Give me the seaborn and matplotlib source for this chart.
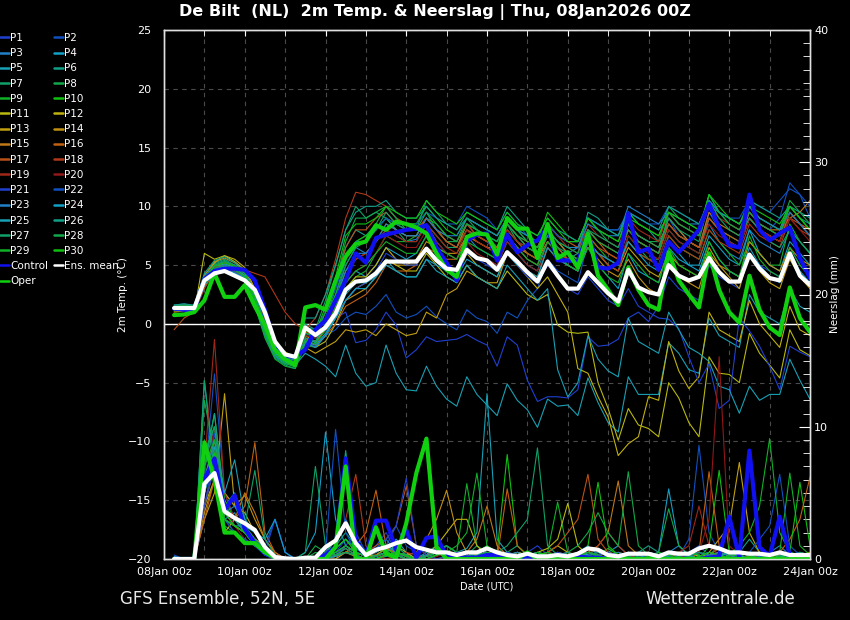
import numpy as np
import pandas as pd
import matplotlib
matplotlib.use("Agg")
import matplotlib.pyplot as plt
import seaborn as sns
from matplotlib.lines import Line2D
from matplotlib.ticker import MultipleLocator

# forecast steps, hours after 08Jan 00z
hours = list(range(6, 385, 6))
tick_hours = [0, 48, 96, 144, 192, 240, 288, 336, 384]
tick_labels = ["08Jan 00z", "10Jan 00z", "12Jan 00z", "14Jan 00z", "16Jan 00z",
               "18Jan 00z", "20Jan 00z", "22Jan 00z", "24Jan 00z"]

member_colors = ["#2040d0", "#1050c0", "#2080c8", "#10a0c8", "#18a0b4",
                 "#10a088", "#10a068", "#10a848", "#10b028", "#10c010",
                 "#b8b810", "#c0b010", "#c0a010", "#c09010", "#c07818",
                 "#c06010", "#b85018", "#b03818", "#a02818", "#901818"]

# ---- 2m temperature, members ----
t_p1 = [1.4, 1.5, 1.4, 3.8, 4.6, 4.8, 4.5, 4.0, 2.2, -0.3, -2.2, -2.9, -3.1, -0.8, -1.2, -0.6,
        0.5, 1.0, -1.6, -1.4, -0.5, 1.0, -0.1, -2.9, -2.2, -1.1, -1.5, -1.4, -1.3, -0.9, -1.4, -1.8,
        -3.6, -1.1, -1.8, -4.8, -6.6, -6.2, -6.2, -6.3, -5.6, -1.1, -1.9, -1.8, -1.3, 0.5, 1.0, 0.2,
        1.5, 4.0, 3.0, 2.5, 2.0, 5.0, 4.0, 3.5, 3.0, 6.0, 5.0, 4.5, 4.0, 6.5, 5.0, 4.0]
t_p2 = [1.3, 1.4, 1.3, 3.6, 4.4, 4.7, 4.6, 4.2, 2.8, 0.5, -1.8, -2.6, -3.0, -1.5, -1.8, -1.0,
        -0.5, 0.5, 1.0, 0.8, 1.5, 2.5, 1.0, 0.5, 0.8, 1.5, 0.6, 0.0, -0.5, 1.2, 0.5, 0.2,
        -0.8, 1.0, 0.5, 2.0, 3.0, 5.5, 4.5, 4.0, 3.5, 7.0, 6.0, 5.5, 5.0, 8.5, 7.0, 6.5,
        6.0, 9.0, 7.5, 7.0, 6.5, 9.5, 8.0, 7.0, 6.5, 10.0, 8.5, 8.0, 9.0, 12.0, 11.0, 9.0]
t_p3 = [1.6, 1.7, 1.5, 4.2, 5.0, 5.3, 5.0, 4.4, 2.6, 0.2, -1.8, -2.6, -3.0, -0.5, -0.8, 0.5,
        2.5, 5.0, 6.5, 6.0, 7.0, 8.0, 7.5, 7.0, 7.2, 8.5, 7.0, 6.0, 5.5, 7.5, 6.5, 6.0,
        5.5, 7.5, 6.5, 5.5, 5.0, 8.0, 7.0, 6.0, 6.5, 9.0, 8.5, 8.0, 8.0, 9.5, 9.0, 8.5,
        8.0, 9.0, 8.0, 7.0, 6.5, 8.5, 7.0, 6.0, 5.5, 8.0, 7.0, 6.5, 6.0, 8.0, 7.0, 6.0]
t_p4 = [1.2, 1.3, 1.2, 3.4, 4.3, 4.5, 4.3, 3.9, 1.8, -0.8, -2.6, -3.3, -3.6, -1.2, -1.6, -0.5,
        1.0, 3.5, 4.5, 4.0, 5.0, 6.5, 6.0, 5.5, 6.0, 7.5, 6.0, 5.0, 4.5, 6.5, 5.5, 5.5,
        5.0, 7.0, 6.0, 5.0, 4.5, 7.0, 6.0, 5.0, 4.5, 6.5, 5.0, 4.0, 3.0, 6.0, 4.5, 4.0,
        3.5, 6.5, 5.5, 5.0, 5.0, 7.5, 6.5, 5.5, 5.0, 8.0, 6.0, 5.0, 4.5, 7.0, 6.0, 5.0]
t_p5 = [1.4, 1.5, 1.4, 3.7, 4.5, 4.6, 4.3, 3.6, 1.5, -1.0, -2.8, -3.4, -3.5, -2.5, -3.0, -3.6,
        -4.5, -1.8, -4.2, -5.3, -5.0, -1.8, -4.2, -5.6, -5.7, -3.6, -5.3, -6.4, -7.0, -4.5, -6.0, -6.9,
        -7.8, -5.1, -6.5, -7.3, -8.8, -6.4, -7.0, -6.9, -7.8, -4.6, -6.7, -8.4, -9.2, -4.5, -6.0, -6.0,
        -6.0, -1.6, -2.5, -3.9, -4.2, 0.5, -1.0, -1.5, -2.0, 2.5, 1.0, 0.5, 0.0, 3.0, 1.5, 1.0]
t_p6 = [1.5, 1.6, 1.5, 4.0, 5.2, 5.5, 5.0, 4.3, 2.4, -0.2, -2.2, -3.0, -3.3, 0.0, -0.5, 1.0,
        3.5, 6.5, 8.0, 7.5, 8.0, 9.0, 8.0, 7.5, 7.5, 9.0, 8.0, 7.0, 6.5, 8.5, 8.0, 7.5,
        7.0, 9.0, 8.0, 7.0, 6.5, 8.0, 6.5, 5.5, 6.0, 9.5, 9.0, 8.0, 7.5, 9.5, 8.5, 8.0,
        7.0, 8.5, 7.5, 7.0, 6.5, 9.0, 8.0, 7.5, 7.0, 9.5, 8.5, 8.0, 7.5, 10.0, 9.0, 8.5]
t_p7 = [1.3, 1.4, 1.3, 3.9, 5.1, 5.4, 4.9, 4.2, 2.0, -0.8, -2.7, -3.4, -3.6, -0.3, -0.5, 2.0,
        5.0, 8.0, 10.0, 9.0, 9.5, 9.0, 8.0, 7.0, 7.0, 8.5, 7.5, 6.5, 6.5, 8.0, 7.5, 7.0,
        6.5, 8.5, 7.0, 6.0, 5.5, 7.5, 6.5, 5.5, 5.0, 7.0, 6.0, 5.0, 4.5, 7.5, 6.5, 5.5,
        5.5, 8.0, 7.0, 6.5, 6.0, 9.0, 8.0, 7.0, 6.5, 9.0, 8.0, 7.5, 7.0, 9.5, 8.5, 7.5]
t_p8 = [1.4, 1.5, 1.4, 3.6, 4.8, 5.0, 4.7, 4.1, 2.2, -0.5, -2.4, -3.1, -3.4, -1.0, -1.2, 0.5,
        2.5, 5.5, 7.0, 7.5, 8.5, 10.0, 9.0, 8.5, 8.5, 9.5, 8.0, 7.0, 7.0, 9.0, 8.5, 8.0,
        7.5, 9.0, 8.0, 7.0, 6.5, 8.5, 7.5, 7.0, 7.0, 9.0, 8.0, 7.0, 6.5, 8.5, 7.5, 7.0,
        7.0, 10.0, 9.0, 8.5, 8.0, 11.0, 9.5, 8.5, 8.0, 10.0, 9.0, 8.5, 8.0, 10.5, 9.5, 8.5]
t_p9 = [1.2, 1.3, 1.2, 3.3, 4.4, 4.7, 4.5, 4.0, 1.6, -1.2, -3.0, -3.6, -3.8, -1.8, -2.0, -1.0,
        1.0, 3.0, 4.0, 4.5, 6.0, 7.5, 7.0, 7.0, 7.5, 9.0, 8.5, 7.5, 7.0, 8.5, 8.0, 7.5,
        6.5, 8.0, 7.0, 6.5, 6.0, 8.0, 7.0, 6.0, 5.5, 7.5, 6.5, 5.5, 5.0, 7.0, 6.0, 5.5,
        5.0, 7.5, 6.5, 6.0, 5.5, 8.0, 7.0, 6.0, 5.0, 7.0, 6.0, 5.0, 5.0, 8.5, 7.0, 6.0]
t_p10 = [1.3, 1.4, 1.4, 3.7, 4.7, 5.0, 4.7, 4.1, 2.1, -0.6, -2.5, -3.2, -3.5, -0.8, -1.0, 0.5,
         3.0, 6.0, 7.0, 7.5, 8.0, 9.0, 8.5, 8.5, 8.5, 10.0, 9.0, 8.0, 7.5, 9.0, 8.5, 8.0,
         7.5, 9.0, 8.0, 7.5, 7.0, 9.5, 8.5, 7.5, 7.0, 9.0, 8.0, 7.5, 7.0, 9.5, 8.5, 8.0,
         7.5, 9.5, 8.5, 8.0, 7.5, 10.5, 9.5, 9.0, 8.5, 10.0, 9.0, 8.5, 8.0, 10.0, 9.0, 8.0]
t_p11 = [1.1, 1.2, 1.0, 6.0, 5.5, 5.8, 5.3, 4.6, 2.8, 0.3, -1.8, -2.6, -3.0, -1.5, -2.0, -1.5,
         0.0, 2.0, 3.0, 3.5, 4.5, 5.5, 5.0, 4.5, 4.5, 6.0, 5.0, 4.0, 3.5, 5.0, 4.0, 3.5,
         3.0, 4.5, 3.5, 2.5, 2.0, 2.5, -0.1, -0.7, -0.8, -0.7, -5.0, -7.2, -9.9, -7.2, -8.6, -8.9,
         -9.6, -5.0, -6.3, -8.4, -9.6, -2.8, -4.2, -4.3, -5.0, -0.8, -2.5, -3.5, -4.6, -0.5, -2.2, -2.7]
t_p12 = [1.3, 1.4, 1.3, 3.8, 5.2, 5.8, 5.5, 4.8, 3.0, 0.5, -1.6, -2.4, -2.8, -1.2, -1.5, -0.5,
         1.0, 3.0, 4.0, 4.0, 5.0, 6.5, 5.5, 5.0, 5.0, 6.5, 5.5, 4.5, 4.0, 6.0, 5.0, 4.5,
         4.0, 6.0, 5.0, 4.0, 3.0, 4.0, 2.5, 1.0, -3.8, -4.2, -6.2, -7.9, -11.2, -10.2, -9.6, -6.2,
         -6.5, -1.5, -4.0, -5.5, -4.5, 1.0, -0.5, -1.0, -1.5, 2.0, 0.0, -1.0, -2.0, 1.5, -0.5, -1.0]
t_p13 = [1.0, 1.1, 1.0, 3.2, 4.3, 4.8, 4.6, 4.2, 2.6, 0.2, -1.9, -2.7, -3.1, -2.0, -2.5, -2.0,
         -1.5, -0.5, -0.7, -0.5, -1.0, 0.0, -0.5, -1.0, -0.8, 1.0, 0.5, 2.5, 3.0, 4.5, 4.0, 3.5,
         3.5, 6.0, 5.0, 4.5, 4.0, 6.5, 5.5, 5.0, 4.5, 7.0, 6.0, 5.0, 4.5, 6.5, 5.5, 4.5,
         4.0, 6.0, 5.0, 4.5, 4.0, 6.5, 5.0, 4.0, 3.0, 6.0, 4.5, 3.5, 3.0, 5.5, 4.0, 3.0]
t_p14 = [1.5, 1.6, 1.5, 4.1, 5.3, 5.6, 5.2, 4.5, 2.7, 0.4, -1.7, -2.5, -2.9, -1.0, -1.5, -0.5,
         0.5, 2.0, 2.5, 3.0, 4.0, 5.5, 5.0, 5.0, 5.5, 7.0, 6.5, 6.0, 6.0, 7.5, 7.0, 6.5,
         6.0, 7.5, 6.5, 6.0, 5.5, 7.0, 6.0, 5.5, 5.0, 6.5, 5.5, 4.5, 4.0, 5.5, 4.0, 3.0,
         2.5, 5.0, 4.0, 3.5, 3.0, 6.0, 5.0, 4.5, 4.0, 7.0, 6.0, 5.0, 4.5, 6.5, 5.5, 5.0]
t_p15 = [1.2, 1.3, 1.2, 3.5, 4.6, 4.9, 4.7, 4.2, 2.4, 0.0, -2.0, -2.8, -3.2, -0.5, -1.0, 0.5,
         2.0, 4.5, 5.5, 6.0, 7.0, 8.5, 8.0, 7.5, 7.5, 9.0, 8.0, 7.0, 6.5, 8.5, 7.5, 7.0,
         6.5, 8.5, 7.5, 6.5, 6.0, 8.0, 7.0, 6.0, 5.5, 8.0, 7.0, 6.5, 6.0, 8.5, 7.5, 7.0,
         6.5, 9.0, 8.0, 7.0, 6.5, 9.5, 8.5, 8.0, 7.5, 9.5, 8.5, 8.0, 8.0, 9.0, 9.5, 10.5]
t_p16 = [1.4, 1.5, 1.4, 3.9, 5.0, 5.2, 4.9, 4.3, 2.5, 0.1, -1.9, -2.7, -3.1, -1.3, -1.8, -1.0,
         0.0, 1.5, 2.0, 2.5, 3.5, 5.0, 4.5, 4.5, 5.0, 6.5, 6.0, 5.5, 5.5, 7.5, 7.0, 6.5,
         6.5, 8.5, 7.5, 7.0, 6.5, 8.5, 7.5, 7.0, 6.5, 8.0, 7.0, 6.0, 5.5, 8.0, 7.0, 6.5,
         6.0, 8.5, 7.5, 7.0, 6.5, 9.0, 8.0, 7.5, 7.0, 9.0, 8.0, 7.5, 7.0, 9.5, 8.5, 8.0]
t_p17 = [-0.5, 0.5, 1.0, 3.0, 4.5, 5.0, 4.8, 4.3, 2.7, 0.3, -1.8, -2.6, -3.0, -0.7, -1.0, 1.0,
         3.5, 6.5, 8.0, 8.0, 9.0, 9.5, 8.5, 8.0, 8.0, 9.0, 8.0, 7.0, 6.5, 8.0, 7.5, 7.0,
         6.5, 8.0, 7.0, 6.0, 5.5, 7.5, 6.5, 5.5, 5.0, 7.5, 6.5, 6.0, 5.5, 8.0, 7.0, 6.5,
         6.0, 8.5, 7.5, 7.0, 6.5, 9.0, 8.0, 7.0, 6.5, 9.0, 8.0, 7.5, 7.0, 9.0, 8.5, 8.0]
t_p18 = [1.3, 1.4, 1.3, 3.6, 4.8, 5.1, 4.9, 4.6, 4.3, 4.0, 2.5, 1.0, 0.0, -0.5, 0.5, 2.5,
         5.5, 9.0, 11.2, 11.0, 10.5, 10.0, 9.0, 8.5, 8.0, 9.0, 8.0, 7.5, 7.0, 8.5, 7.5, 7.0,
         6.0, 7.5, 6.5, 5.5, 5.0, 7.0, 6.0, 5.5, 5.0, 7.0, 6.0, 5.0, 4.5, 7.0, 6.0, 5.5,
         5.0, 7.5, 6.5, 6.0, 5.5, 8.0, 7.0, 6.5, 6.0, 8.5, 7.5, 7.0, 6.5, 9.0, 8.0, 7.5]
t_p19 = [1.2, 1.3, 1.3, 3.4, 4.4, 4.7, 4.5, 4.0, 2.0, -0.5, -2.3, -3.0, -3.4, -1.5, -1.8, -0.5,
         1.5, 4.0, 5.5, 6.0, 7.0, 8.0, 7.5, 7.0, 7.0, 8.5, 7.5, 6.5, 6.0, 8.0, 7.0, 6.5,
         6.0, 8.0, 7.0, 6.5, 6.0, 8.5, 7.5, 6.5, 6.0, 8.5, 7.5, 7.0, 6.5, 9.0, 8.0, 7.5,
         7.0, 9.5, 8.5, 8.0, 7.5, 10.0, 9.0, 8.5, 8.0, 9.5, 8.5, 8.0, 7.5, 9.5, 8.5, 7.5]
t_p20 = [1.4, 1.5, 1.4, 3.7, 4.9, 5.2, 4.8, 4.2, 2.3, -0.2, -2.1, -2.9, -3.2, -1.0, -1.2, 0.0,
         1.5, 3.5, 4.5, 5.0, 6.0, 7.5, 7.0, 6.5, 6.5, 8.0, 7.0, 6.0, 5.5, 7.0, 6.0, 5.5,
         5.0, 7.0, 6.0, 5.0, 4.5, 6.5, 5.5, 5.0, 4.5, 7.0, 6.0, 5.5, 5.0, 7.5, 6.5, 6.0,
         5.5, 8.0, 7.0, 6.5, 6.0, 8.5, 7.5, 7.0, 6.5, 9.0, 8.0, 7.5, 7.0, 9.0, 8.0, 7.0]
t_p21 = [1.3, 1.4, 1.3, 3.5, 4.6, 5.0, 4.8, 4.3, 2.5, 0.0, -2.0, -2.8, -3.2, -1.5, -2.0, -1.0,
         0.5, 2.0, 3.0, 3.5, 4.5, 6.0, 5.5, 5.0, 5.0, 6.5, 5.5, 5.0, 4.5, 6.0, 5.5, 5.0,
         4.5, 6.0, 5.0, 4.0, 3.5, 5.0, 4.0, 3.0, 2.5, 4.0, 3.0, 2.0, 1.5, 3.0, 1.5, 1.0,
         0.5, 0.4, -0.4, -2.8, -5.0, -3.4, -7.2, -6.5, 0.5, -0.6, -1.9, -3.6, -5.6, -1.9, -2.4, -2.8]
t_p22 = [1.5, 1.6, 1.5, 4.0, 5.0, 5.3, 5.0, 4.4, 2.6, 0.2, -1.9, -2.7, -3.0, -0.5, -0.8, 1.0,
         3.0, 5.5, 7.0, 7.0, 8.0, 9.0, 8.5, 8.0, 8.5, 9.5, 9.0, 8.5, 8.5, 10.0, 9.5, 9.0,
         8.0, 9.5, 8.5, 7.5, 7.0, 8.5, 7.5, 7.0, 7.0, 9.0, 8.5, 8.0, 8.0, 9.5, 9.0, 8.5,
         8.5, 10.0, 9.5, 9.0, 8.5, 10.5, 9.5, 9.0, 9.0, 10.5, 10.0, 9.5, 10.5, 11.5, 11.0, 10.0]
t_p23 = [1.2, 1.3, 1.2, 3.3, 4.3, 4.6, 4.4, 3.9, 1.8, -0.9, -2.7, -3.3, -3.6, -1.2, -1.5, 0.0,
         2.0, 4.5, 6.0, 6.0, 7.0, 8.5, 8.0, 7.5, 7.5, 9.0, 8.0, 7.5, 7.5, 9.0, 8.5, 8.0,
         7.5, 9.0, 8.0, 7.5, 7.0, 8.0, 7.0, 6.5, 6.5, 8.5, 8.0, 7.5, 7.5, 10.0, 9.5, 9.0,
         8.5, 9.5, 9.0, 8.5, 8.5, 10.5, 9.5, 9.0, 8.5, 10.0, 9.0, 8.5, 8.0, 9.5, 8.5, 7.5]
t_p24 = [1.4, 1.5, 1.4, 3.8, 4.9, 5.1, 4.8, 4.1, 2.0, -0.7, -2.5, -3.2, -3.5, -1.5, -1.8, -0.8,
         0.5, 2.0, 3.0, 3.0, 4.0, 5.0, 4.5, 4.0, 4.0, 5.5, 5.0, 4.5, 4.0, 5.5, 5.0, 4.5,
         4.0, 6.0, 5.0, 4.5, 4.0, 6.5, 5.5, 5.0, 4.5, 7.0, 6.0, 5.5, 5.0, 7.0, 6.0, 5.0,
         4.5, 7.0, 6.0, 5.0, 4.5, 7.0, 5.5, 4.5, 4.0, 6.5, 5.0, 4.0, 3.5, 6.0, 4.5, 3.5]
t_p25 = [1.3, 1.4, 1.3, 3.6, 4.6, 4.9, 4.6, 4.0, 1.9, -0.8, -2.6, -3.3, -3.6, -1.6, -2.0, -1.0,
         0.5, 2.5, 3.5, 3.5, 4.0, 5.5, 4.5, 4.0, 4.0, 5.5, 4.5, 4.0, 3.5, 5.0, 4.0, 3.5,
         3.0, 5.0, 4.0, 3.0, 2.0, 3.0, -3.9, -6.2, -5.0, -1.0, -3.0, -4.0, -4.5, 0.5, -1.5, -2.0,
         -2.5, 1.0, -0.5, -2.0, -2.5, -3.2, -5.3, -5.6, -7.6, -5.3, -6.5, -6.0, -6.0, -3.0, -4.8, -6.4]
t_p26 = [1.6, 1.7, 1.6, 4.3, 5.4, 5.7, 5.2, 4.5, 2.6, 0.0, -2.0, -2.8, -3.1, 0.5, 0.5, 2.5,
         5.0, 8.0, 9.5, 10.0, 10.0, 10.5, 9.5, 9.0, 9.0, 10.0, 9.0, 8.5, 8.0, 9.5, 9.0, 8.5,
         8.0, 10.0, 9.0, 8.0, 7.5, 9.0, 8.0, 7.5, 7.0, 9.0, 8.5, 8.0, 7.5, 9.5, 9.0, 8.5,
         8.0, 10.0, 9.5, 9.0, 8.5, 10.0, 9.5, 9.0, 8.5, 10.5, 10.0, 9.5, 9.0, 10.0, 9.5, 9.0]
t_p27 = [1.3, 1.4, 1.3, 3.5, 4.7, 5.0, 4.7, 4.0, 1.8, -1.0, -2.9, -3.5, -3.8, -1.2, -1.5, 0.0,
         2.0, 5.0, 6.5, 7.0, 8.0, 9.5, 8.5, 8.0, 8.0, 10.5, 9.5, 8.5, 8.0, 9.0, 8.0, 7.5,
         7.0, 8.5, 7.5, 6.5, 6.0, 7.5, 6.5, 6.0, 5.5, 8.0, 7.5, 7.0, 6.5, 8.5, 7.5, 7.0,
         6.5, 9.0, 8.0, 7.5, 7.0, 10.5, 9.0, 8.0, 7.5, 9.0, 8.0, 7.0, 6.5, 8.0, 7.0, 6.0]
t_p28 = [1.5, 1.6, 1.5, 3.9, 5.0, 5.3, 5.0, 4.3, 2.2, -0.4, -2.3, -3.0, -3.3, -0.8, -1.0, 1.0,
         3.5, 7.0, 9.0, 9.0, 9.5, 10.0, 9.0, 8.0, 8.0, 9.5, 8.5, 7.5, 7.0, 8.5, 8.0, 7.5,
         7.0, 8.5, 7.5, 7.0, 6.5, 8.0, 7.0, 6.5, 6.0, 8.0, 7.0, 6.5, 6.0, 8.0, 7.0, 6.5,
         6.0, 9.5, 8.5, 8.0, 7.5, 11.0, 9.5, 8.5, 8.0, 9.5, 8.5, 8.0, 7.5, 10.0, 9.0, 8.0]
t_p29 = [1.2, 1.3, 1.2, 3.4, 4.5, 4.8, 4.6, 4.0, 1.9, -0.7, -2.6, -3.3, -3.7, -1.4, -1.7, -0.5,
         1.5, 3.5, 4.5, 5.0, 6.0, 7.0, 6.5, 6.0, 6.0, 7.5, 6.5, 6.0, 5.5, 7.0, 6.5, 6.0,
         5.5, 7.5, 6.5, 5.5, 5.0, 7.0, 6.0, 5.0, 4.5, 6.5, 5.0, 4.0, 3.5, 6.0, 5.0, 4.0,
         3.5, 6.5, 5.0, 4.5, 4.0, 7.0, 5.5, 4.5, 4.0, 7.5, 5.5, 4.5, 4.0, 6.5, 5.0, 4.0]
t_p30 = [1.4, 1.5, 1.4, 3.8, 4.9, 5.2, 4.9, 4.3, 2.3, -0.3, -2.2, -2.9, -3.3, -0.6, -0.8, 1.5,
         4.0, 7.5, 8.5, 8.5, 9.0, 10.0, 9.5, 9.0, 9.0, 10.5, 9.5, 9.0, 8.5, 9.5, 9.0, 8.5,
         8.0, 9.5, 8.5, 8.0, 7.5, 9.0, 8.0, 7.0, 7.0, 9.0, 8.0, 7.5, 7.0, 9.0, 8.5, 8.0,
         7.5, 9.5, 9.0, 8.5, 8.0, 11.0, 10.0, 9.0, 8.5, 10.0, 9.5, 9.0, 8.5, 10.0, 9.0, 8.0]

ctrl_t = [1.3, 1.2, 1.2, 3.8, 4.5, 4.7, 4.7, 4.6, 3.7, 1.2, -1.8, -2.7, -2.8, -2.2, -0.5, 0.3,
          2.0, 3.7, 6.0, 5.2, 7.3, 7.6, 7.8, 8.0, 8.1, 8.4, 6.5, 5.2, 3.7, 7.1, 7.6, 7.7,
          5.4, 7.6, 6.1, 6.7, 7.1, 8.2, 5.4, 5.4, 5.3, 7.7, 4.8, 4.7, 5.2, 9.4, 6.1, 6.4,
          4.6, 7.0, 6.1, 7.0, 8.0, 10.2, 8.2, 6.7, 6.5, 11.0, 8.0, 7.1, 7.7, 8.2, 5.6, 3.9]
oper_t = [0.75, 0.8, 1.0, 2.0, 4.3, 2.3, 2.3, 3.3, 1.5, -0.1, -2.2, -3.0, -3.5, 1.4, 1.6, 1.2,
          3.7, 5.7, 6.8, 7.0, 8.4, 8.0, 8.7, 8.5, 8.2, 7.7, 6.0, 4.6, 4.0, 7.4, 7.7, 7.6,
          5.9, 9.0, 8.1, 8.1, 5.6, 8.5, 5.6, 6.1, 4.8, 7.7, 4.1, 2.9, 1.6, 4.8, 2.9, 1.6,
          1.2, 6.1, 3.7, 2.5, 1.4, 6.0, 2.9, 1.0, 0.1, 4.1, 1.2, -0.3, -0.95, 3.1, 0.5, -0.7]
mean_t = [1.35, 1.35, 1.35, 3.7, 4.3, 4.5, 4.1, 3.7, 2.9, 1.0, -1.5, -2.6, -2.8, -0.3, -0.95, -0.3,
          0.9, 2.9, 3.6, 3.7, 4.3, 5.3, 5.3, 5.3, 5.3, 6.4, 5.4, 4.7, 4.6, 6.3, 5.6, 5.4,
          4.6, 6.1, 5.3, 4.4, 3.6, 5.3, 4.1, 3.0, 3.0, 4.4, 3.5, 2.6, 1.9, 4.6, 3.1, 2.7,
          2.5, 5.0, 4.1, 3.7, 4.0, 5.6, 4.4, 3.6, 3.6, 5.9, 4.7, 3.9, 3.7, 6.0, 4.1, 3.3]

# ---- precipitation (mm per 6h), members ----
r_p1 = [0.3, 0, 0, 4.0, 8.0, 3.5, 2.5, 2.0, 1.0, 0.5, 0.2, 0, 0, 0, 0, 0,
        0.5, 1.5, 0.8, 0.3, 1.0, 2.0, 0.5, 0.3, 0, 0.5, 0.8, 0.3, 0, 0.2, 0.5, 0.3,
        0, 0.2, 0, 0.5, 1.0, 0.3, 0, 0, 0, 0.5, 0.2, 0, 0, 0.3, 0.5, 0.2,
        0, 0, 0.3, 0.5, 1.0, 0.3, 0, 0, 0, 0.2, 0.5, 0.2, 0, 0, 0.3, 0.2]
r_p2 = [0, 0, 0, 6.0, 14.0, 5.0, 3.0, 2.5, 1.5, 1.0, 3.0, 0.5, 0, 0, 0, 0,
        0, 1.0, 2.0, 0.5, 0, 1.0, 2.5, 1.0, 0.5, 0, 0.3, 1.0, 0.5, 0, 0, 0.2,
        0, 0, 0.5, 0.3, 0, 0, 0.2, 0, 0, 0, 0.5, 0.3, 0, 0, 0.2, 0.5,
        0.3, 0, 0.2, 1.5, 8.6, 2.0, 0.5, 0, 0, 0.3, 0.5, 0.2, 0, 0.3, 0.5, 0.2]
r_p3 = [0, 0, 0, 7.0, 10.0, 4.0, 2.5, 2.0, 1.0, 0.5, 0, 0, 0, 0, 0, 0.5,
        1.5, 3.0, 1.5, 0.5, 0.8, 1.5, 0.5, 0, 0, 0.3, 0.5, 0.2, 0, 0, 0.3, 0.5,
        0.2, 0, 0, 0.3, 0.5, 0.2, 0, 0, 0.5, 1.0, 0.3, 0, 0, 0.5, 0.3, 0,
        0, 0.5, 1.0, 0.3, 0, 0, 0.2, 0.5, 0.3, 0, 0, 0.5, 1.0, 0.3, 0, 0]
r_p4 = [0, 0, 0, 5.0, 8.5, 3.0, 3.5, 2.0, 1.5, 0.3, 0, 0, 0, 0.5, 2.0, 9.6,
        3.0, 1.0, 0.5, 0.2, 0, 0.5, 1.5, 0.5, 0, 0.2, 0.5, 0.3, 0, 0, 0.3, 0.2,
        0, 0.3, 0.5, 0, 0, 0.2, 0.5, 0.3, 0, 0, 0.2, 0.5, 1.0, 0.3, 0, 0,
        0.5, 5.3, 1.0, 0.3, 0, 0.5, 0.3, 0, 0, 0.2, 0.5, 0.3, 0, 0, 0.2, 0]
r_p5 = [0.2, 0, 0, 13.5, 7.0, 4.0, 5.0, 3.0, 2.0, 1.0, 0.2, 0, 0, 0, 0, 0,
        0.3, 0.8, 0.3, 0, 0, 0.2, 0.5, 0.2, 0, 0.3, 0.8, 1.0, 0.5, 0.8, 2.0, 12.5,
        1.5, 0.5, 0.3, 0, 0, 0.2, 0, 0, 0, 0.3, 0.5, 0.2, 0, 0, 0.2, 0.3,
        0, 0, 0.2, 0.5, 0.2, 0, 0, 0.3, 0.5, 0.2, 0, 0, 0.3, 0.5, 0.2, 0]
r_p6 = [0, 0, 0, 6.0, 9.0, 5.0, 4.0, 2.5, 1.5, 0.8, 0.3, 0, 0, 0, 0, 0.3,
        1.0, 2.0, 1.0, 0.3, 0.5, 1.0, 0.5, 0.2, 0, 0.5, 1.0, 0.5, 0.2, 0, 0.5, 1.0,
        0.5, 0.2, 0, 0, 0.3, 0.5, 0.2, 0, 0, 0.3, 0.8, 0.3, 0, 0, 0.5, 1.0,
        0.5, 0, 0, 0.3, 0.5, 0.2, 0, 0, 0.5, 1.5, 0.5, 0, 0, 0.3, 0.5, 0.3]
r_p7 = [0, 0, 0, 13.5, 6.0, 3.0, 2.0, 1.5, 1.0, 0.5, 0, 0, 0, 0.5, 7.0, 1.0,
        0.3, 0.5, 0.2, 0, 0.3, 0.8, 0.3, 0, 0, 0.2, 0.5, 0.2, 0, 0.3, 1.0, 0.5,
        0.2, 0.5, 1.0, 0.3, 0, 0.3, 0.5, 0.2, 0, 0, 0.3, 0.5, 0.3, 0, 0, 0.2,
        0, 0.3, 0.5, 0.2, 0, 0.3, 1.0, 0.5, 0, 0, 0.2, 0.5, 0.3, 0, 0, 0.2]
r_p8 = [0, 0, 0, 12.0, 8.0, 2.5, 2.0, 1.5, 1.0, 0.3, 0, 0, 0, 0, 0.5, 0.3,
        0.2, 0.5, 0.3, 0, 0.2, 0.5, 0.3, 0, 0, 0.3, 0.5, 0.2, 0, 0.2, 0.5, 0.3,
        0, 0.2, 0.5, 0.3, 0, 0, 0.3, 0.5, 0.2, 0, 0, 0.3, 0.5, 0.2, 0, 0,
        0.5, 3.8, 1.0, 0.3, 0, 0, 0.3, 0.5, 0.2, 0, 0.3, 0.5, 0.2, 0, 0.2, 0]
r_p9 = [0, 0, 0, 8.0, 10.0, 4.0, 3.0, 2.0, 1.0, 0.5, 0, 0, 0, 0, 0, 0.2,
        0.5, 1.0, 0.5, 0.2, 0, 0.3, 0.5, 0.3, 0, 0, 0.5, 1.0, 0.5, 5.7, 1.0, 0.3,
        0, 0.2, 0.5, 0.3, 0, 0.5, 4.3, 0.5, 0, 0, 0.3, 0.5, 0.2, 0, 0.3, 0.5,
        0.2, 0, 0, 0.3, 0.5, 0.2, 0, 0, 0.3, 0.5, 0.3, 0, 0.5, 6.5, 1.0, 0.3]
r_p10 = [0, 0, 0, 7.0, 11.0, 4.5, 3.0, 2.5, 1.5, 0.5, 0.2, 0, 0, 0, 0, 0.3,
         0.8, 1.5, 0.5, 0.2, 0.3, 0.8, 0.3, 0, 0, 0.3, 0.8, 0.5, 0, 0.2, 0.5, 1.0,
         0.5, 7.9, 1.0, 0.3, 0, 0.2, 0.5, 0.2, 0, 0, 0.3, 0.8, 0.3, 0, 0, 0.2,
         0, 0.3, 0.5, 0.2, 0, 1.0, 6.7, 0.5, 0, 0, 0.3, 0.5, 0.2, 0, 0.3, 0.5]
r_p11 = [0, 0, 0, 4.0, 6.0, 2.0, 3.0, 2.0, 1.5, 0.8, 0.2, 0, 0, 0, 0, 0,
         0.2, 0.5, 1.0, 0.5, 0, 0.3, 0.5, 0.2, 0, 0.2, 0.5, 0.3, 0, 0, 0.2, 0.5,
         0.3, 0, 0, 0.2, 0.5, 0.8, 1.5, 4.2, 1.0, 0.3, 0, 0, 0.2, 0.5, 0.3, 0,
         0, 0.2, 0.3, 0.5, 0.2, 0, 0, 0.3, 0.5, 0.3, 0, 0, 0.2, 0.3, 0, 0]
r_p12 = [0, 0, 0, 5.0, 8.0, 3.0, 2.5, 2.0, 1.5, 1.0, 0.3, 0, 0, 0, 0, 0,
         0, 0.5, 1.0, 0.5, 0.2, 0.5, 1.0, 0.5, 0, 0.3, 1.0, 2.0, 3.0, 3.0, 1.0, 0.3,
         0, 0.2, 0.5, 0.3, 0, 0.5, 1.0, 0.5, 0, 0, 0.3, 0.5, 0.3, 0, 0, 0.2,
         0.3, 0.5, 0.2, 0, 0, 0.3, 0.5, 0.3, 0, 0, 0.2, 0.5, 0.3, 0, 0, 0.2]
r_p13 = [0, 0, 0, 3.0, 5.0, 12.5, 4.0, 3.5, 2.0, 1.0, 0.3, 0, 0, 0, 0, 0,
         0.3, 0.5, 0.3, 0, 0.2, 0.5, 0.3, 0, 0, 0.2, 0.5, 0.3, 0, 0.2, 0.5, 0.2,
         0, 0, 0.2, 0.5, 0.3, 0, 0, 0.2, 0.5, 0.3, 0, 0, 0.2, 0.5, 0.3, 0,
         0, 0.2, 0.5, 0.3, 0, 0.5, 1.5, 2.5, 7.3, 2.0, 0.5, 0, 0, 0.2, 0.3, 0]
r_p14 = [0, 0, 0, 3.5, 6.0, 5.0, 4.0, 4.8, 3.0, 1.5, 0.5, 0, 0, 0, 0, 0,
         0.2, 0.5, 0.2, 0, 0.3, 0.8, 0.5, 0.3, 0.5, 1.5, 3.0, 5.2, 2.0, 0.5, 0.3, 0,
         0, 0.2, 0.5, 0.3, 0, 0, 0.2, 0.5, 0.3, 0, 0, 0.2, 0.5, 0.3, 0, 0,
         0.2, 0.5, 0.3, 0, 0, 0.2, 0.5, 0.3, 0, 0.2, 0.5, 0.3, 0, 0, 0.2, 0.5]
r_p15 = [0, 0, 0, 4.0, 7.0, 3.5, 3.0, 5.0, 3.5, 1.5, 0.5, 0, 0, 0, 0, 0,
         0.3, 1.0, 0.5, 0.2, 0.5, 1.0, 0.5, 0.2, 0, 0.3, 0.5, 0.2, 0, 0.5, 1.5, 4.0,
         1.0, 0.3, 0, 0, 0.2, 0.5, 0.3, 0, 0, 0.5, 1.0, 2.0, 5.9, 1.0, 0.3, 0,
         0, 0.2, 0.5, 0.3, 0, 0.3, 0.8, 0.3, 0, 0, 0.2, 0.5, 0.3, 0, 0, 0.2]
r_p16 = [0, 0, 0, 3.0, 6.0, 4.0, 3.0, 4.0, 8.8, 2.0, 0.5, 0, 0, 0, 0, 0,
         0.2, 0.5, 1.0, 2.0, 5.2, 1.0, 0.3, 0, 0, 0.2, 0.5, 0.3, 0, 0.2, 0.5, 0.3,
         0, 5.3, 1.0, 0.3, 0, 0.2, 0.5, 0.3, 0, 0, 0.2, 0.5, 0.3, 0, 0, 0.2,
         0.3, 0.5, 0.2, 0, 0.5, 6.6, 1.0, 0.3, 0, 0.2, 0.5, 0.3, 0.5, 1.5, 3.0, 6.2]
r_p17 = [0, 0, 0, 5.0, 8.0, 3.0, 2.5, 2.0, 1.5, 0.8, 0.3, 0, 0, 0, 0, 0,
         0.3, 0.5, 0.3, 0.5, 1.0, 1.5, 2.5, 5.5, 1.0, 0.3, 0, 0.2, 0.5, 0.3, 0, 0.2,
         0.5, 0.3, 0, 0, 0.2, 0.5, 1.0, 2.0, 3.0, 6.4, 1.5, 0.5, 0, 0, 0.2, 0.5,
         0.3, 0, 0, 0.2, 0.5, 0.3, 0, 0, 0.2, 0.5, 0.3, 0, 0, 0.2, 0.5, 0.3]
r_p18 = [0, 0, 0, 6.0, 9.0, 3.5, 2.5, 2.0, 1.0, 0.5, 0.2, 0, 0, 0, 0, 0.3,
         1.0, 3.0, 6.4, 1.0, 0.3, 0, 0.2, 0.5, 0.3, 0, 0.2, 0.5, 0.3, 0, 0, 0.2,
         0.5, 0.3, 0, 0, 0.2, 0.5, 0.3, 0, 0, 0.3, 1.0, 2.0, 1.0, 0.3, 0, 0,
         0.2, 0.5, 0.3, 0, 0, 0.2, 0.5, 0.3, 0, 0, 0.2, 0.3, 0, 0, 0.2, 0.3]
r_p19 = [0, 0, 0, 7.0, 16.6, 5.0, 3.0, 2.0, 1.5, 0.5, 0.2, 0, 0, 0, 0, 0,
         0.3, 0.8, 0.3, 0, 0.2, 0.5, 0.3, 0, 0, 0.2, 0.5, 0.3, 0, 0, 0.2, 0.5,
         0.3, 0, 0, 0.2, 0.5, 0.3, 0, 0, 0.2, 0.5, 0.3, 0, 0, 0.2, 0.5, 0.3,
         0, 0.2, 0.5, 1.0, 4.0, 1.0, 0.3, 0, 0, 0.2, 0.5, 0.3, 0, 0, 0.2, 0.3]
r_p20 = [0, 0, 0, 5.0, 10.0, 4.0, 2.5, 1.5, 1.0, 0.5, 0, 0, 0, 0, 0, 0,
         0.2, 0.5, 0.3, 0, 0.2, 0.3, 0.5, 0.2, 0, 0, 0.2, 0.5, 0.3, 0, 0, 0.2,
         0.3, 0, 0, 0.2, 0.3, 0.5, 0.2, 0, 0, 0.2, 0.5, 0.3, 0, 0, 0.2, 0.3,
         0, 0, 0.2, 0.3, 0.5, 3.0, 15.3, 1.0, 0.3, 0, 0.2, 0.3, 0, 0, 0.2, 0]
r_p21 = [0, 0, 0, 4.0, 7.0, 3.0, 2.0, 1.5, 1.0, 0.5, 3.0, 0.5, 0, 0, 0, 0,
         0.3, 1.0, 0.5, 0.3, 0.8, 1.5, 2.5, 6.1, 1.0, 0.3, 0, 0.2, 0.5, 0.3, 0, 0,
         0.2, 0.5, 0.3, 0, 0, 0.2, 0.5, 0.3, 0, 0, 0.3, 0.5, 0.2, 0, 0, 0.3,
         0.5, 0.2, 0, 0.3, 0.5, 0.2, 0, 0, 0.3, 0.5, 0.2, 0, 0, 0.3, 0.5, 0.2]
r_p22 = [0, 0, 0, 5.0, 9.5, 4.0, 3.0, 2.0, 1.0, 0.5, 0.2, 0, 0, 0, 0, 0.5,
         9.8, 2.0, 0.5, 0.2, 0, 0.3, 0.5, 0.2, 0, 0, 0.3, 0.5, 0.2, 0, 0, 0.3,
         0.5, 0.2, 0, 0, 0.3, 0.5, 0.2, 0, 0, 0.3, 0.5, 0.3, 0, 0, 0.2, 0.5,
         0.3, 0, 0, 0.2, 0.5, 0.3, 0, 0, 0.3, 0.5, 1.5, 2.5, 6.4, 1.0, 0.3, 0]
r_p23 = [0, 0, 0, 6.0, 8.0, 3.5, 4.0, 3.0, 2.0, 1.0, 0.3, 0, 0, 0, 0, 0.3,
         0.8, 1.5, 0.8, 0.3, 0.5, 1.0, 0.5, 0.2, 0, 0.3, 0.8, 0.3, 0, 0.2, 0.5, 0.3,
         0, 0.3, 0.5, 0.2, 0, 0, 0.3, 0.5, 0.2, 0, 0, 0.3, 0.5, 0.2, 0, 0,
         0.3, 0.5, 0.2, 0, 0, 0.3, 0.5, 0.3, 0, 0, 0.2, 0.5, 0.3, 0, 0, 0.2]
r_p24 = [0, 0, 0, 5.0, 7.5, 3.0, 2.5, 2.5, 2.0, 1.5, 3.0, 0.5, 0, 0, 0, 0,
         0.2, 0.5, 0.3, 0, 0.2, 0.5, 0.3, 0, 0, 0.2, 0.5, 0.3, 0, 0.2, 0.5, 0.3,
         0, 0, 0.2, 0.5, 0.3, 0, 0, 0.2, 0.5, 0.3, 0, 0, 0.2, 0.5, 0.3, 0,
         0, 0.2, 0.5, 0.3, 0, 0, 0.2, 0.5, 0.3, 0, 0, 0.2, 0.5, 0.3, 0, 0]
r_p25 = [0, 0, 0, 6.0, 9.0, 5.0, 7.5, 3.0, 2.0, 0.8, 0.3, 0, 0, 0, 0, 0.2,
         0.5, 1.0, 0.5, 0.2, 0, 0.3, 0.5, 0.3, 0, 0, 0.3, 0.5, 0.2, 0, 0.3, 0.5,
         0.3, 0, 0, 0.2, 0.5, 0.3, 0, 0, 0.2, 0.5, 0.3, 0, 0, 0.3, 0.5, 0.3,
         0, 0, 0.2, 0.5, 0.3, 0, 0, 0.3, 0.5, 0.3, 0, 0, 0.2, 0.3, 0, 0]
r_p26 = [0, 0, 0, 7.0, 11.0, 4.0, 3.0, 2.0, 1.5, 0.8, 0.3, 0, 0, 0, 0, 0.3,
         1.5, 8.2, 1.5, 0.5, 0.2, 0.5, 1.0, 0.3, 0, 0.2, 0.5, 0.2, 0, 0, 0.3, 0.5,
         0.2, 0, 0, 0.3, 0.5, 0.2, 0, 0, 0.3, 0.5, 0.2, 0, 0, 0.3, 0.5, 0.2,
         0, 0.3, 0.5, 0.2, 0, 0, 0.3, 0.5, 0.2, 0, 0, 0.3, 0.5, 0.2, 0, 0]
r_p27 = [0, 0, 0, 8.0, 10.0, 4.0, 3.0, 2.5, 6.7, 1.5, 0.3, 0, 0, 0, 0, 0,
         0.3, 0.8, 0.3, 0, 0.2, 0.5, 0.3, 0, 0, 0.2, 0.5, 0.3, 0, 0.2, 0.5, 0.3,
         0.5, 1.0, 2.0, 3.0, 8.4, 1.0, 0.3, 0, 0, 0.2, 0.5, 0.3, 0, 0, 0.2, 0.5,
         0.3, 0, 0, 0.2, 0.5, 0.3, 0, 0, 0.2, 0.5, 0.3, 0, 0, 0.2, 0.5, 0.3]
r_p28 = [0, 0, 0, 9.0, 7.0, 3.0, 2.5, 2.0, 1.0, 0.5, 0, 0, 0, 0, 1.0, 0.5,
         0.3, 0.5, 0.3, 0, 0.2, 0.5, 0.3, 0, 0, 0.2, 0.5, 0.3, 0, 0, 0.2, 0.5,
         0.3, 0, 0, 0.2, 0.5, 0.3, 0, 0.5, 1.0, 2.0, 3.5, 2.0, 1.0, 6.6, 1.0, 0.3,
         0, 0, 0.2, 0.5, 0.3, 0, 0, 0.2, 0.5, 0.3, 0, 0, 0.2, 0.5, 0.3, 0]
r_p29 = [0, 0, 0, 7.0, 9.0, 3.0, 2.5, 2.0, 1.5, 0.5, 0.2, 0, 0, 0, 0, 0.2,
         0.5, 1.0, 0.5, 0.2, 0, 0.3, 0.5, 0.3, 0, 0, 0.3, 0.5, 1.0, 2.0, 6.5, 1.0,
         0.3, 0, 0, 0.2, 0.5, 0.3, 0, 0, 0.2, 0.5, 0.3, 0, 0, 0.2, 0.5, 0.3,
         0, 0, 0.2, 0.5, 0.3, 0, 0, 0.3, 1.0, 2.0, 4.0, 9.1, 2.0, 0.5, 0.3, 0]
r_p30 = [0, 0, 0, 6.0, 8.0, 3.5, 2.5, 2.0, 1.0, 0.5, 0.2, 0, 0, 0, 0, 0.3,
         0.8, 1.5, 0.5, 0.2, 0, 0.3, 0.5, 0.2, 0, 0, 0.3, 0.5, 0.2, 0, 0, 0.3,
         0.5, 0.2, 0, 0, 0.3, 0.5, 0.2, 0, 0, 1.0, 5.8, 1.0, 0.3, 0, 0, 0.2,
         0.5, 0.3, 0, 0, 0.2, 0.5, 0.3, 0, 0, 0.2, 0.5, 0.3, 0, 0.5, 5.8, 1.0]

ctrl_r = [0, 0, 0, 6.0, 7.6, 3.7, 4.8, 2.3, 1.2, 0.4, 0.1, 0, 0, 0, 0, 0.3,
          0.9, 7.6, 1.4, 0.2, 2.9, 2.9, 0.7, 2.2, 0.1, 1.6, 1.7, 0.2, 0.1, 0.1, 0.1, 0.3,
          0.3, 0.2, 0.1, 0.2, 0.1, 0.1, 0.1, 0.1, 0.2, 0.1, 0.1, 0, 0, 0, 0, 0,
          0, 0, 0, 0, 0, 0.1, 0.2, 3.2, 0.1, 8.2, 0.9, 0.2, 3.2, 0.3, 0.3, 0.2]
oper_r = [0, 0, 0, 8.8, 6.0, 2.0, 2.0, 1.2, 1.2, 0.5, 0.1, 0, 0, 0, 0, 0,
          0.9, 7.0, 0, 0, 2.4, 0.4, 0.1, 2.7, 6.5, 9.1, 0.9, 0, 0, 0, 0, 0,
          0, 0, 0, 0.5, 0, 0, 0, 0, 0, 0, 0, 0, 0, 0, 0, 0,
          0, 0, 0, 0, 0, 0, 0, 0, 0, 0, 0, 0, 0, 0, 0, 0]
mean_r = [0, 0, 0, 5.7, 6.5, 3.6, 3.1, 2.7, 2.2, 0.9, 0.15, 0.05, 0, 0.1, 0.1, 0.9,
          1.4, 2.7, 1.2, 0.3, 0.7, 0.9, 1.2, 1.4, 0.9, 0.7, 0.5, 0.5, 0.3, 0.5, 0.5, 0.8,
          0.5, 0.3, 0.2, 0.4, 0.2, 0.2, 0.3, 0.2, 0.4, 0.8, 0.7, 0.3, 0.2, 0.4, 0.4, 0.4,
          0.2, 0.5, 0.4, 0.4, 0.8, 1.0, 0.8, 0.5, 0.5, 0.4, 0.4, 0.3, 0.5, 0.3, 0.3, 0.3]

t_members = [t_p1, t_p2, t_p3, t_p4, t_p5, t_p6, t_p7, t_p8, t_p9, t_p10,
             t_p11, t_p12, t_p13, t_p14, t_p15, t_p16, t_p17, t_p18, t_p19, t_p20,
             t_p21, t_p22, t_p23, t_p24, t_p25, t_p26, t_p27, t_p28, t_p29, t_p30]
r_members = [r_p1, r_p2, r_p3, r_p4, r_p5, r_p6, r_p7, r_p8, r_p9, r_p10,
             r_p11, r_p12, r_p13, r_p14, r_p15, r_p16, r_p17, r_p18, r_p19, r_p20,
             r_p21, r_p22, r_p23, r_p24, r_p25, r_p26, r_p27, r_p28, r_p29, r_p30]

frames = []
for i, (t, r) in enumerate(zip(t_members, r_members)):
    frames.append(pd.DataFrame({"hour": hours, "temp": t, "rain": r, "member": f"P{i+1}"}))
df = pd.concat(frames, ignore_index=True)
names = [f"P{i+1}" for i in range(30)]
palette = {n: member_colors[i % 20] for i, n in enumerate(names)}

ctrl_col = "#1010f0"
oper_col = "#10d010"
white = "#ffffff"
grid_col = "#4a4a4a"

sns.set_style("dark")
plt.rcParams["font.family"] = ["DejaVu Sans"]
fig = plt.figure(figsize=(8.5, 6.2), dpi=100, facecolor="black")
ax = fig.add_axes([164/850, 1 - 559/620, (810-164)/850, (559-30)/620])
ax.set_facecolor("black")

sns.lineplot(data=df, x="hour", y="temp", hue="member", hue_order=names, palette=palette,
             lw=0.8, legend=False, estimator=None, sort=False, ax=ax)
ax.axhline(0, color=white, lw=1.0, zorder=1.5)
sns.lineplot(x=hours, y=ctrl_t, color=ctrl_col, lw=3, ax=ax)
sns.lineplot(x=hours, y=oper_t, color=oper_col, lw=3, ax=ax)
sns.lineplot(x=hours, y=mean_t, color=white, lw=3, ax=ax)

ax2 = ax.twinx()
sns.lineplot(data=df, x="hour", y="rain", hue="member", hue_order=names, palette=palette,
             lw=0.8, legend=False, estimator=None, sort=False, ax=ax2)
sns.lineplot(x=hours, y=ctrl_r, color=ctrl_col, lw=3, ax=ax2)
sns.lineplot(x=hours, y=oper_r, color=oper_col, lw=3, ax=ax2)
sns.lineplot(x=hours, y=mean_r, color=white, lw=3, ax=ax2)

ax.set_xlim(0, 384)
ax.set_ylim(-20, 25)
ax2.set_ylim(0, 40)

ax.set_xticks(tick_hours)
ax.set_xticklabels(tick_labels)
ax.xaxis.set_minor_locator(MultipleLocator(24))
ax.yaxis.set_major_locator(MultipleLocator(5))
ax.grid(which="both", axis="x", color=grid_col, ls=(0, (4, 4)), lw=0.8)
ax.grid(which="major", axis="y", color=grid_col, ls=(0, (4, 4)), lw=0.8)

ax.tick_params(axis="both", which="both", colors=white, labelsize=8, direction="in",
               top=True, length=4)
ax.tick_params(axis="y", length=0, pad=9)
ax.tick_params(axis="x", pad=6)
ax2.yaxis.set_major_locator(MultipleLocator(10))
ax2.yaxis.set_minor_locator(MultipleLocator(1))
ax2.tick_params(axis="y", which="major", colors=white, labelsize=8, direction="in", length=8, pad=3)
ax2.tick_params(axis="y", which="minor", colors=white, direction="in", length=5)

for a in (ax, ax2):
    for s in a.spines.values():
        s.set_color("#e0e0e0")
        s.set_linewidth(1)
        s.set_visible(True)

ax.set_xlabel("Date (UTC)", color=white, fontsize=7, labelpad=3)
ax.set_ylabel("2m Temp. (°C)", color=white, fontsize=7.5, labelpad=0)
ax2.set_ylabel("Neerslag (mm)", color=white, fontsize=7.5, labelpad=1)

fig.text(0.512, 0.981, "De Bilt  (NL)  2m Temp. & Neerslag | Thu, 08Jan2026 00Z",
         color=white, fontsize=11.5, fontweight="bold", ha="center", va="center",
         family=["DejaVu Sans Condensed", "Liberation Sans Narrow", "DejaVu Sans"])
fig.text(120/850, 1 - 599/620, "GFS Ensemble, 52N, 5E", color="#e8e8e8",
         fontsize=12, ha="left", va="center")
fig.text(795/850, 1 - 599/620, "Wetterzentrale.de", color="#e8e8e8",
         fontsize=12, ha="right", va="center")

# legend: two columns filled row by row, then Control / Ens. mean / Oper
col1 = [(names[i], member_colors[i % 20]) for i in range(0, 30, 2)] + [("Control", ctrl_col), ("Oper", oper_col)]
col2 = [(names[i], member_colors[i % 20]) for i in range(1, 30, 2)] + [("Ens. mean", white)]
entries = col1 + col2
handles = [Line2D([], [], color=c, lw=1.8) for _, c in entries]
labels = [n for n, _ in entries]
leg = fig.legend(handles, labels, loc="upper left", bbox_to_anchor=(0.0, 1 - 33/620),
                 ncol=2, frameon=False, fontsize=7.5, handlelength=0.9, handletextpad=0.1,
                 columnspacing=0.5, labelspacing=0.5, borderpad=0, borderaxespad=0)
for txt in leg.get_texts():
    txt.set_color(white)

fig.savefig("out.png", dpi=100, facecolor="black")
